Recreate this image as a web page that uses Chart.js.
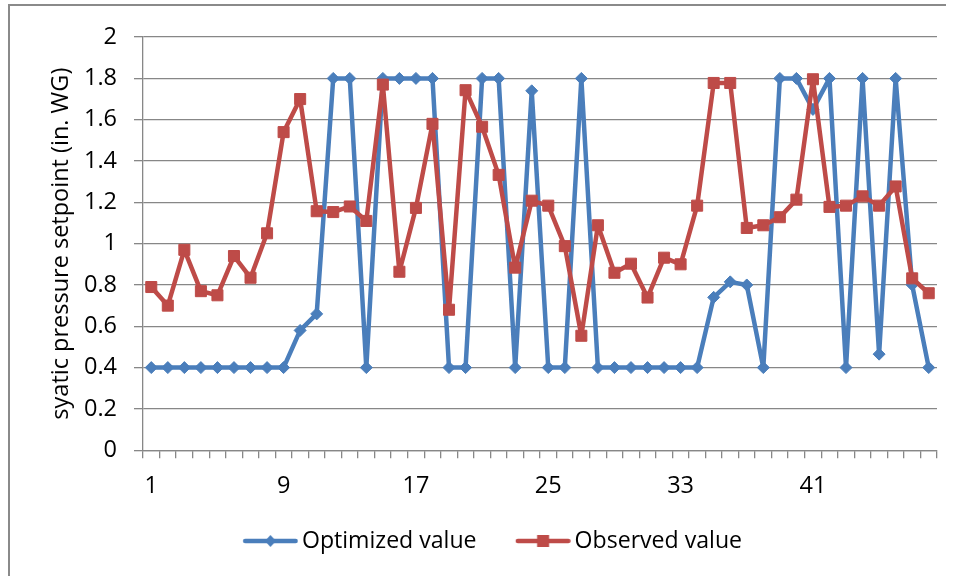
<!DOCTYPE html>
<html>
<head>
<meta charset="utf-8">
<script src="https://cdn.jsdelivr.net/npm/chart.js@4.4.0/dist/chart.umd.min.js"></script>
<style>
html,body{margin:0;padding:0;overflow:hidden;background:#fff;width:958px;height:576px;}
#frame{position:absolute;left:8px;top:4px;width:936px;height:586px;border:2px solid #8a8a8a;border-right:none;background:#fff;}
#frame canvas{display:block;}
</style>
</head>
<body>
<div id="frame"><canvas id="c"></canvas></div>
<script>
const categories = ['1','2','3','4','5','6','7','8','9','10','11','12','13','14','15','16','17','18','19','20','21','22','23','24','25','26','27','28','29','30','31','32','33','34','35','36','37','38','39','40','41','42','43','44','45','46','47','48'];
const shownXTicks = ['1','9','17','25','33','41'];
const optimizedValue = [0.4,0.4,0.4,0.4,0.4,0.4,0.4,0.4,0.4,0.58,
  0.66,1.8,1.8,0.4,1.8,1.8,1.8,1.8,0.4,0.4,
  1.8,1.8,0.4,1.74,0.4,0.4,1.8,0.4,0.4,0.4,
  0.4,0.4,0.4,0.4,0.74,0.815,0.8,0.4,1.8,1.8,
  1.65,1.8,0.4,1.8,0.465,1.8,0.8,0.4];
const observedValue = [0.79,0.70,0.97,0.77,0.75,0.94,0.835,1.05,1.54,1.70,
  1.157,1.153,1.18,1.11,1.77,0.864,1.173,1.58,0.68,1.743,
  1.566,1.333,0.884,1.208,1.184,0.988,0.554,1.089,0.859,0.903,
  0.739,0.932,0.90,1.184,1.778,1.778,1.076,1.089,1.128,1.213,
  1.796,1.178,1.184,1.229,1.184,1.277,0.832,0.76];
const seriesNames = ['Optimized value','Observed value'];
const yAxisTitle = 'syatic pressure setpoint (in. WG)';

const BLUE = '#4A7EBB';
const RED = '#BE4B48';
const GRID = '#878787';
const FONT = '"Open Sans", "Liberation Sans", sans-serif';
const FS = 23.5;
const LFS = 23.1;

function legendImage(color, shape) {
  const cv = document.createElement('canvas');
  cv.width = 92; cv.height = 16;
  const g = cv.getContext('2d');
  g.strokeStyle = color; g.fillStyle = color;
  g.lineWidth = 4.5; g.lineCap = 'round';
  g.beginPath(); g.moveTo(39, 8); g.lineTo(89.5, 8); g.stroke();
  const cx = 64.3;
  g.beginPath();
  if (shape === 'diamond') {
    g.moveTo(cx, 2); g.lineTo(cx + 5.5, 8); g.lineTo(cx, 14); g.lineTo(cx - 5.5, 8);
  } else {
    g.rect(cx - 6, 2, 12, 12);
  }
  g.closePath(); g.fill();
  return cv;
}
const legendImages = [legendImage(BLUE, 'diamond'), legendImage(RED, 'square')];

new Chart(document.getElementById('c'), {
  type: 'line',
  data: {
    labels: categories,
    datasets: [
      {
        label: seriesNames[0], data: optimizedValue,
        borderColor: BLUE, backgroundColor: BLUE, borderWidth: 4.5,
        pointStyle: 'rectRot', pointRadius: 6, pointBorderWidth: 1,
        pointBackgroundColor: BLUE, pointBorderColor: BLUE,
        borderJoinStyle: 'round', borderCapStyle: 'round',
        tension: 0, order: 1
      },
      {
        label: seriesNames[1], data: observedValue,
        borderColor: RED, backgroundColor: RED, borderWidth: 4.5,
        pointStyle: 'rect', pointRadius: 7.8, pointBorderWidth: 1,
        pointBackgroundColor: RED, pointBorderColor: RED,
        borderJoinStyle: 'round', borderCapStyle: 'round',
        tension: 0, order: 0
      }
    ]
  },
  options: {
    responsive: true,
    maintainAspectRatio: false,
    animation: false,
    devicePixelRatio: 1,
    layout: { padding: { top: 28, left: 0, right: 0, bottom: 29.45 } },
    plugins: {
      tooltip: { enabled: false },
      legend: {
        position: 'bottom',
        align: 'center',
        labels: {
          usePointStyle: true,
          pointStyleWidth: 76.45,
          padding: 10,
          color: '#000',
          font: { family: FONT, size: LFS },
          sort: (a, b) => a.datasetIndex - b.datasetIndex,
          generateLabels: (chart) => {
            const items = Chart.defaults.plugins.legend.labels.generateLabels(chart);
            items.forEach(it => { it.pointStyle = legendImages[it.datasetIndex]; });
            return items;
          }
        }
      }
    },
    scales: {
      x: {
        type: 'category',
        offset: true,
        grid: { display: true, drawOnChartArea: false, drawTicks: true, tickLength: 8, color: GRID, lineWidth: 1.3, offset: true },
        border: { display: true, color: GRID, width: 1.3 },
        ticks: {
          autoSkip: false, maxRotation: 0, minRotation: 0, padding: 14,
          color: '#000', font: { family: FONT, size: FS },
          callback: function(v, i) { const l = categories[i]; return shownXTicks.includes(l) ? l : ''; }
        },
        afterFit: (s) => { s.height = 69.25; }
      },
      y: {
        min: 0, max: 2,
        grid: { color: GRID, lineWidth: 1.3, drawTicks: true, tickLength: 9 },
        border: { display: true, color: GRID, width: 1.3 },
        ticks: {
          stepSize: 0.2, padding: 17, color: '#000', font: { family: FONT, size: FS },
          callback: (v) => String(Number(v.toFixed(1)))
        },
        title: { display: true, text: yAxisTitle, color: '#000', font: { family: FONT, size: FS }, padding: { top: 36.9, bottom: 0 } },
        afterFit: (s) => { s.width = 133; }
      },
      yR: {
        position: 'right', display: true,
        grid: { display: false, drawTicks: false },
        border: { display: false },
        ticks: { display: false },
        afterFit: (s) => { s.width = 9; }
      }
    }
  }
});
</script>
</body>
</html>
